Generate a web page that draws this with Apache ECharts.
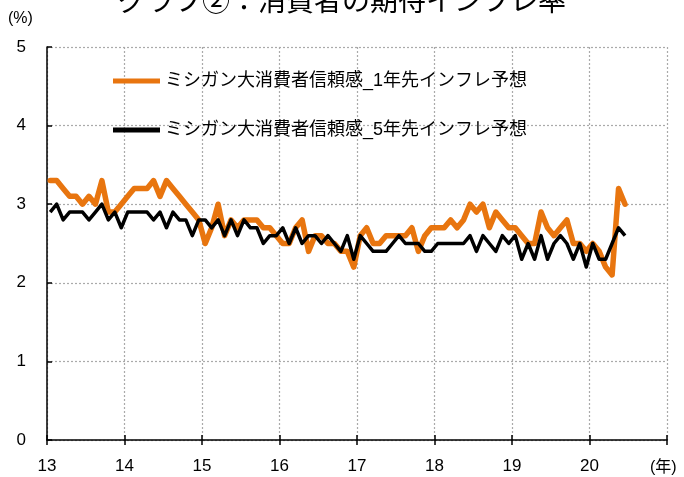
<!DOCTYPE html>
<html>
<head>
<meta charset="utf-8">
<script src="https://cdn.jsdelivr.net/npm/echarts@6/dist/echarts.min.js"></script>
<style>html,body{margin:0;padding:0;background:#fff}#c{width:684px;height:477px}</style>
</head>
<body>
<div id="c"></div>
<script>
const titleText = 'グラフ②：消費者の期待インフレ率';
const seriesNames = ['ミシガン大消費者信頼感_1年先インフレ予想', 'ミシガン大消費者信頼感_5年先インフレ予想'];
const yearLabels = ['13', '14', '15', '16', '17', '18', '19', '20'];
const yTicks = [0, 1, 2, 3, 4, 5];
// monthly, Jan 2013 - Jun 2020
const oneYear = [
  3.3,3.3,3.2,3.1,3.1,3.0,3.1,3.0,3.3,2.9,2.9,3.0,
  3.1,3.2,3.2,3.2,3.3,3.1,3.3,3.2,3.1,3.0,2.9,2.8,
  2.5,2.7,3.0,2.6,2.8,2.7,2.8,2.8,2.8,2.7,2.7,2.6,
  2.5,2.5,2.7,2.8,2.4,2.6,2.6,2.5,2.5,2.4,2.4,2.2,
  2.6,2.7,2.5,2.5,2.6,2.6,2.6,2.6,2.7,2.4,2.6,2.7,
  2.7,2.7,2.8,2.7,2.8,3.0,2.9,3.0,2.7,2.9,2.8,2.7,
  2.7,2.6,2.5,2.5,2.9,2.7,2.6,2.7,2.8,2.5,2.5,2.4,
  2.5,2.4,2.2,2.1,3.2,3.0
];
const fiveYear = [
  2.9,3.0,2.8,2.9,2.9,2.9,2.8,2.9,3.0,2.8,2.9,2.7,
  2.9,2.9,2.9,2.9,2.8,2.9,2.7,2.9,2.8,2.8,2.6,2.8,
  2.8,2.7,2.8,2.6,2.8,2.6,2.8,2.7,2.7,2.5,2.6,2.6,
  2.7,2.5,2.7,2.5,2.6,2.6,2.5,2.6,2.5,2.4,2.6,2.3,
  2.6,2.5,2.4,2.4,2.4,2.5,2.6,2.5,2.5,2.5,2.4,2.4,
  2.5,2.5,2.5,2.5,2.5,2.6,2.4,2.6,2.5,2.4,2.6,2.5,
  2.6,2.3,2.5,2.3,2.6,2.3,2.5,2.6,2.5,2.3,2.5,2.2,
  2.5,2.3,2.3,2.5,2.7,2.6
];

const FONT = '"Liberation Sans", "Noto Sans CJK JP", sans-serif';
const toPts = arr => arr.map((v, i) => [i + 0.5, v]);
const chart = echarts.init(document.getElementById('c'));
chart.setOption({
  animation: false,
  textStyle: { fontFamily: FONT },
  grid: { left: 47, right: 17, top: 47, bottom: 37 },
  legend: {
    orient: 'vertical', left: 113, top: 71, itemGap: 29, padding: 0,
    itemWidth: 47, itemHeight: 5, icon: 'rect',
    textStyle: { fontSize: 18, lineHeight: 20, color: '#000', fontFamily: FONT },
    data: seriesNames
  },
  graphic: [
    { type: 'text', left: 'center', top: -11, style: { text: titleText, fontSize: 28, fill: '#000', fontFamily: FONT } },
    { type: 'text', left: 8, top: 11, style: { text: '(%)', fontSize: 16, fill: '#000', fontFamily: FONT } },
    { type: 'text', left: 650, top: 460, style: { text: '(年)', fontSize: 16, fill: '#000', fontFamily: FONT } }
  ],
  xAxis: [{
    type: 'value', min: 0, max: 96, interval: 12,
    axisLine: { show: true, lineStyle: { color: '#000', width: 1.5 } },
    axisTick: { show: true, length: 5, lineStyle: { color: '#000', width: 1.5 } },
    axisLabel: { fontSize: 17, color: '#000', margin: 18, fontFamily: FONT,
      formatter: v => yearLabels[v / 12] || '' },
    splitLine: { show: true, lineStyle: { color: '#aaa', type: [2, 2], width: 1.2 } }
  }, {
    type: 'value', min: 0, max: 96, interval: 12, position: 'bottom',
    axisLine: { show: false },
    axisTick: { show: true, inside: true, length: 5, lineStyle: { color: '#000', width: 1.5 } },
    axisLabel: { show: false }, splitLine: { show: false }
  }],
  yAxis: {
    type: 'value', min: yTicks[0], max: yTicks[yTicks.length - 1], interval: 1,
    axisLine: { show: true, lineStyle: { color: '#000', width: 1.5 } },
    axisTick: { show: true, inside: true, length: 5, lineStyle: { color: '#000', width: 1.5 } },
    axisLabel: { fontSize: 17, color: '#000', margin: 21, fontFamily: FONT },
    splitLine: { show: true, lineStyle: { color: '#aaa', type: [2, 2], width: 1.2 } }
  },
  series: [
    { name: seriesNames[0], type: 'line', data: toPts(oneYear), showSymbol: false, symbol: 'none',
      itemStyle: { color: '#E8750F' }, lineStyle: { color: '#E8750F', width: 5.5, cap: 'round', join: 'round' } },
    { name: seriesNames[1], type: 'line', data: toPts(fiveYear), showSymbol: false, symbol: 'none',
      itemStyle: { color: '#000' }, lineStyle: { color: '#000', width: 3.5, join: 'round' } }
  ]
});
</script>
</body>
</html>
